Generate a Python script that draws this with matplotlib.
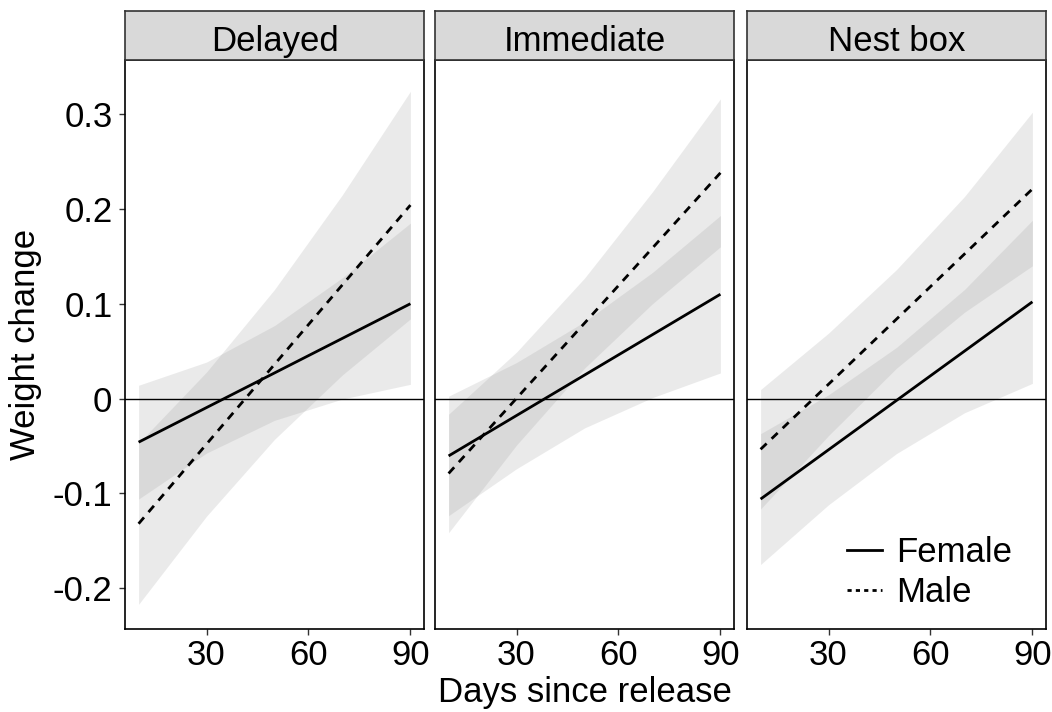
import matplotlib.pyplot as plt
from matplotlib.lines import Line2D

plt.rcParams['font.family'] = ['Liberation Sans', 'DejaVu Sans']

# facet names
panels = ['Delayed', 'Immediate', 'Nest box']

# fitted lines, value at day 10 and day 90
line_days = [10, 90]
female_fit = [[-0.046, 0.100], [-0.0605, 0.110], [-0.106, 0.102]]
male_fit = [[-0.132, 0.204], [-0.079, 0.238], [-0.0535, 0.221]]

# confidence bands read at these days
band_days = [10, 30, 50, 70, 90]
female_lower = [[-0.106, -0.0575, -0.023, -0.0005, 0.015],
                [-0.1235, -0.074, -0.031, 0.001, 0.027],
                [-0.175, -0.112, -0.058, -0.015, 0.016]]
female_upper = [[0.014, 0.0385, 0.077, 0.1275, 0.185],
                [0.0025, 0.038, 0.081, 0.133, 0.193],
                [-0.037, 0.004, 0.054, 0.115, 0.188]]
male_lower = [[-0.217, -0.124, -0.043, 0.025, 0.084],
              [-0.1415, -0.049, 0.032, 0.100, 0.160],
              [-0.1165, -0.039, 0.032, 0.091, 0.140]]
male_upper = [[-0.047, 0.028, 0.115, 0.215, 0.324],
              [-0.0165, 0.049, 0.127, 0.218, 0.316],
              [0.0095, 0.069, 0.136, 0.213, 0.302]]

y_ticks = [-0.2, -0.1, 0, 0.1, 0.2, 0.3]
y_labels = ['-0.2', '-0.1', '0', '0.1', '0.2', '0.3']
x_ticks = [30, 60, 90]

W, H = 1052, 712
fig = plt.figure(figsize=(W / 100, H / 100), dpi=100)

lefts = [125, 435, 747]
pw = 299
top, bottom = 60, 629
strip_top = 11
fs = 25

for i, name in enumerate(panels):
    ax = fig.add_axes([lefts[i] / W, (H - bottom) / H, pw / W, (bottom - top) / H])
    ax.fill_between(band_days, female_lower[i], female_upper[i], color='#999999', alpha=0.2, lw=0)
    ax.fill_between(band_days, male_lower[i], male_upper[i], color='#999999', alpha=0.2, lw=0)
    ax.axhline(0, color='black', lw=1.0)
    ax.plot(line_days, female_fit[i], color='black', lw=2.0, solid_capstyle='butt')
    ax.plot(line_days, male_fit[i], color='black', lw=2.0, ls=(0, (3, 2.5)))

    ax.set_xlim(6, 94)
    ax.set_ylim(-0.243, 0.357)
    ax.set_xticks(x_ticks)
    ax.set_xticklabels([str(t) for t in x_ticks])
    ax.set_yticks(y_ticks)
    if i == 0:
        ax.set_yticklabels(y_labels)
        ax.set_ylabel('Weight change', fontsize=fs, labelpad=8)
    else:
        ax.tick_params(axis='y', left=False, labelleft=False)
    ax.tick_params(labelsize=fs, length=4, width=1, color='#333333', pad=3)
    ax.tick_params(axis='y', pad=5)
    for s in ax.spines.values():
        s.set_linewidth(1.2)
        s.set_color('black')
    if i == 1:
        ax.set_xlabel('Days since release', fontsize=fs, labelpad=3)

    # strip on top of each panel
    sax = fig.add_axes([lefts[i] / W, (H - top) / H, pw / W, (top - strip_top) / H])
    sax.set_facecolor('#d9d9d9')
    sax.set_xticks([])
    sax.set_yticks([])
    for s in sax.spines.values():
        s.set_linewidth(1.2)
        s.set_color('#333333')
    sax.text(0.5, 0.38, name, ha='center', va='center', fontsize=fs, transform=sax.transAxes)

    if i == 2:
        handles = [Line2D([], [], color='black', lw=2.0),
                   Line2D([], [], color='black', lw=2.0, ls=(0, (1.5, 1.5)))]
        ax.legend(handles, ['Female', 'Male'], loc='lower right', frameon=False,
                  fontsize=fs, handlelength=1.0, handletextpad=0.4, labelspacing=0.2,
                  bbox_to_anchor=(0.99, -0.02))

fig.savefig('out.png', dpi=100)
